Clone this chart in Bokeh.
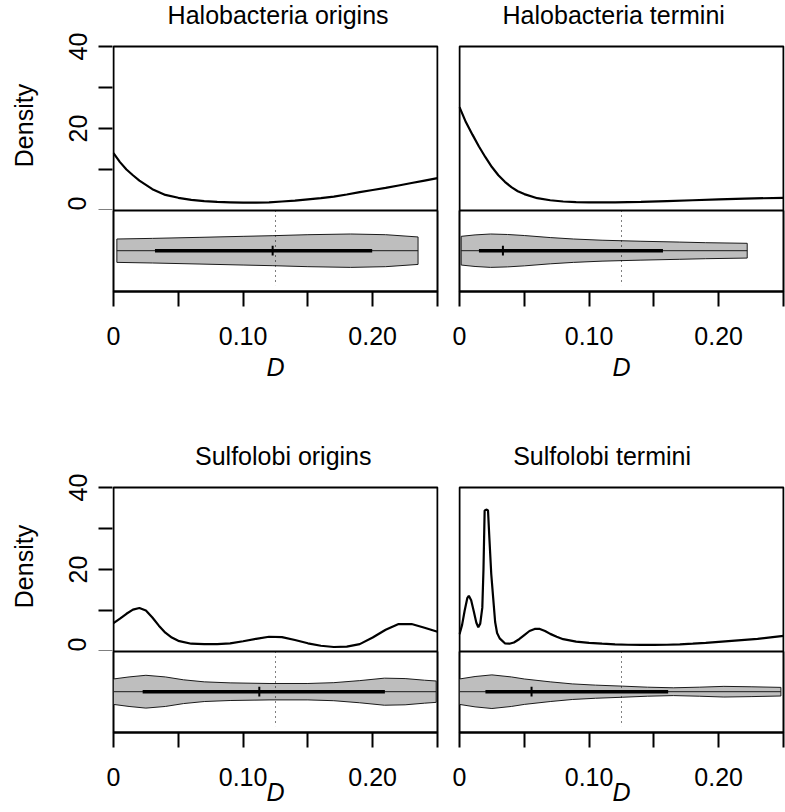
import math
from bokeh.plotting import figure
from bokeh.layouts import column, row
from bokeh.models import Range1d, FixedTicker
from bokeh.core.properties import value
from bokeh.embed import file_html
from bokeh.resources import INLINE

FONT = "Liberation Sans"

titles = ["Halobacteria origins", "Halobacteria termini",
          "Sulfolobi origins", "Sulfolobi termini"]
y_title = "Density"
x_title = "D"

# ---- density curves (D vs Density) ----
dens1_x = [0, 0.005, 0.01, 0.015, 0.02, 0.03, 0.04, 0.05, 0.06, 0.07, 0.08, 0.09, 0.10,
           0.11, 0.12, 0.13, 0.14, 0.15, 0.16, 0.17, 0.18, 0.19, 0.20, 0.21, 0.22, 0.23, 0.24, 0.25]
dens1_y = [14.0, 11.8, 10.0, 8.6, 7.3, 5.2, 3.8, 3.1, 2.6, 2.3, 2.1, 2.0, 1.9,
           1.9, 2.0, 2.2, 2.4, 2.7, 3.0, 3.4, 3.9, 4.5, 5.0, 5.5, 6.1, 6.7, 7.3, 7.9]

dens2_x = [0, 0.005, 0.01, 0.015, 0.02, 0.025, 0.03, 0.035, 0.04, 0.045, 0.05, 0.06, 0.07,
           0.08, 0.09, 0.10, 0.12, 0.14, 0.16, 0.18, 0.20, 0.22, 0.25]
dens2_y = [25.2, 21.5, 18.5, 15.6, 13.0, 10.6, 8.6, 7.0, 5.7, 4.7, 4.0, 3.0, 2.5,
           2.2, 2.05, 2.0, 2.0, 2.1, 2.3, 2.5, 2.7, 2.9, 3.1]

dens3_x = [0, 0.005, 0.01, 0.015, 0.02, 0.025, 0.03, 0.035, 0.04, 0.045, 0.05, 0.06, 0.07,
           0.08, 0.09, 0.10, 0.11, 0.12, 0.13, 0.14, 0.15, 0.16, 0.17, 0.18, 0.19, 0.20,
           0.21, 0.22, 0.23, 0.24, 0.25]
dens3_y = [6.9, 8.0, 9.2, 10.2, 10.6, 10.0, 8.3, 6.3, 4.6, 3.4, 2.6, 1.9, 1.8,
           1.8, 2.0, 2.5, 3.1, 3.6, 3.5, 2.8, 2.0, 1.4, 1.1, 1.2, 1.8, 3.4,
           5.3, 6.7, 6.7, 5.8, 4.8]

dens4_x = [0, 0.002, 0.004, 0.006, 0.0072, 0.009, 0.011, 0.013, 0.0145, 0.016, 0.0176,
           0.0185, 0.0194, 0.021, 0.022, 0.023, 0.0245, 0.026, 0.0275, 0.029, 0.031,
           0.035, 0.0385, 0.042, 0.046, 0.05, 0.054, 0.058, 0.062, 0.066, 0.07, 0.075,
           0.08, 0.09, 0.10, 0.11, 0.12, 0.13, 0.14, 0.15, 0.16, 0.17, 0.18, 0.19, 0.20,
           0.21, 0.22, 0.23, 0.24, 0.25]
dens4_y = [4.2, 6.5, 10.0, 13.0, 13.6, 12.5, 9.8, 7.0, 5.9, 6.8, 10.7,
           20.0, 34.4, 34.6, 34.4, 28.0, 18.9, 13.0, 7.2, 4.5, 3.2,
           2.0, 1.9, 2.2, 3.0, 4.0, 5.0, 5.5, 5.5, 5.0, 4.3, 3.6,
           3.0, 2.4, 2.1, 1.9, 1.75, 1.65, 1.6, 1.6, 1.65, 1.75, 1.9, 2.1, 2.35,
           2.6, 2.85, 3.1, 3.45, 3.8]

# ---- violin half-widths (same units as the violin strip) ----
vio1_x = [0.0026, 0.03, 0.066, 0.10, 0.123, 0.15, 0.183, 0.21, 0.235]
vio1_w = [2.85, 3.0, 3.25, 3.5, 3.66, 3.9, 4.07, 3.9, 3.35]

vio2_x = [0.0013, 0.012, 0.024, 0.037, 0.05, 0.07, 0.088, 0.11, 0.14, 0.17, 0.19, 0.222]
vio2_w = [3.5, 3.85, 4.07, 3.95, 3.7, 3.2, 2.85, 2.55, 2.3, 2.1, 1.95, 1.8]

vio3_x = [0.0, 0.012, 0.025, 0.04, 0.054, 0.07, 0.09, 0.12, 0.15, 0.17, 0.19, 0.209,
          0.225, 0.24, 0.249]
vio3_w = [3.1, 3.6, 4.0, 3.6, 2.9, 2.4, 2.15, 2.0, 2.0, 2.2, 2.7, 3.3, 3.2, 2.8, 2.6]

vio4_x = [0.0, 0.012, 0.025, 0.04, 0.05, 0.07, 0.087, 0.105, 0.126, 0.145, 0.165, 0.185,
          0.204, 0.225, 0.248]
vio4_w = [3.1, 3.7, 4.1, 3.6, 3.1, 2.4, 1.9, 1.6, 1.35, 1.1, 0.95, 1.1, 1.3, 1.2, 1.05]

box_q1 = [0.032, 0.015, 0.0225, 0.020]
box_q3 = [0.1996, 0.157, 0.2094, 0.161]
box_med = [0.1228, 0.0335, 0.1125, 0.0556]
ref_D = 0.125

dens_x = [dens1_x, dens2_x, dens3_x, dens4_x]
dens_y = [dens1_y, dens2_y, dens3_y, dens4_y]
vio_x = [vio1_x, vio2_x, vio3_x, vio4_x]
vio_w = [vio1_w, vio2_w, vio3_w, vio4_w]

# ---- layout / style constants ----
FRAME_W = 324
PX = 0.25 / FRAME_W          # one pixel in D units
L_BORDER = 113
LABEL_W = 45                 # strip holding the rotated "Density" label
R_LEFT_BORDER = 20
RB = 2
DENS_FIG_H = 210             # density strip incl. title space
PX_PER_UNIT = 4.1            # density pixels per unit
VIO_FRAME_H = 81
VIO_CENTER = -9.8
TITLE_X = [0.127, 0.119, 0.131, 0.110]
TITLE_Y = 47.6
YLAB_X = 23
YLAB_Y = 85
TXT = "25px"


def style_common(p):
    p.xgrid.visible = False
    p.ygrid.visible = False
    p.background_fill_color = "white"
    p.border_fill_color = "white"


def make_ylabel():
    p = figure(width=LABEL_W, height=DENS_FIG_H,
               x_range=Range1d(0, LABEL_W), y_range=Range1d(0, DENS_FIG_H),
               output_backend="svg", toolbar_location=None,
               x_axis_location=None, y_axis_location=None,
               min_border_left=0, min_border_right=0, min_border_top=0, min_border_bottom=0)
    style_common(p)
    p.outline_line_color = None
    p.text(x=[YLAB_X], y=[YLAB_Y], text=[y_title], angle=math.pi / 2,
           text_align="center", text_baseline="alphabetic",
           text_font=value(FONT), text_font_size=value(TXT), text_color="black")
    return p


def make_density(i, left):
    lb = (L_BORDER - LABEL_W if left else R_LEFT_BORDER) - 1
    p = figure(width=lb + FRAME_W + 2 + (RB - 1),
               height=DENS_FIG_H,
               x_range=Range1d(-PX, 0.25 + PX),
               y_range=Range1d(0, DENS_FIG_H / PX_PER_UNIT),
               output_backend="svg", toolbar_location=None,
               x_axis_location=None,
               y_axis_location="left" if left else None,
               min_border_left=lb, min_border_right=RB - 1,
               min_border_top=0, min_border_bottom=0)
    style_common(p)
    p.outline_line_color = None
    if left:
        ax = p.yaxis[0]
        ax.ticker = FixedTicker(ticks=[0, 20, 40], minor_ticks=[10, 30])
        ax.major_tick_out = 14
        ax.major_tick_in = 0
        ax.minor_tick_out = 14
        ax.minor_tick_in = 0
        ax.major_tick_line_width = 2
        ax.minor_tick_line_width = 2
        ax.major_tick_line_color = "black"
        ax.minor_tick_line_color = "black"
        ax.axis_line_color = None
        ax.major_label_orientation = "vertical"
        ax.major_label_text_font = FONT
        ax.major_label_text_font_size = TXT
        ax.major_label_text_color = "black"
        ax.major_label_standoff = 12
    # plot box of the density panel
    p.quad(left=[0], right=[0.25], bottom=[0], top=[40],
           fill_color=None, line_color="black", line_width=2)
    p.line(dens_x[i], dens_y[i], line_color="black", line_width=2.2)
    p.text(x=[TITLE_X[i]], y=[TITLE_Y], text=[titles[i]],
           text_align="center", text_baseline="alphabetic",
           text_font=value(FONT), text_font_size=value(TXT), text_color="black")
    return p


def make_violin(i, left, bottom_border, label_standoff, axis_label_standoff):
    p = figure(width=(L_BORDER if left else R_LEFT_BORDER) + FRAME_W + RB,
               height=VIO_FRAME_H + bottom_border,
               x_range=Range1d(0, 0.25), y_range=Range1d(-19.75, 0),
               output_backend="svg", toolbar_location=None,
               y_axis_location=None, x_axis_location="below",
               min_border_left=L_BORDER if left else R_LEFT_BORDER,
               min_border_right=RB, min_border_top=0, min_border_bottom=bottom_border)
    style_common(p)
    p.outline_line_color = "black"
    p.outline_line_width = 2
    ax = p.xaxis[0]
    ax.ticker = FixedTicker(ticks=[0, 0.1, 0.2], minor_ticks=[0.05, 0.15, 0.25])
    ax.major_label_overrides = {0: "0", 0.1: "0.10", 0.2: "0.20"}
    ax.major_tick_out = 15
    ax.major_tick_in = 0
    ax.minor_tick_out = 15
    ax.minor_tick_in = 0
    ax.major_tick_line_width = 2
    ax.minor_tick_line_width = 2
    ax.major_tick_line_color = "black"
    ax.minor_tick_line_color = "black"
    ax.axis_line_width = 2
    ax.axis_line_color = "black"
    ax.major_label_text_font = FONT
    ax.major_label_text_font_size = TXT
    ax.major_label_text_color = "black"
    ax.major_label_standoff = label_standoff
    ax.axis_label = x_title
    ax.axis_label_text_font = FONT
    ax.axis_label_text_font_size = TXT
    ax.axis_label_text_font_style = "italic"
    ax.axis_label_text_color = "black"
    ax.axis_label_standoff = axis_label_standoff

    vx = vio_x[i]
    vw = vio_w[i]
    xs = list(vx) + list(vx[::-1])
    ys = [VIO_CENTER + w for w in vw] + [VIO_CENTER - w for w in vw[::-1]]
    p.patch(xs, ys, fill_color="#bebebe", line_color="#1a1a1a", line_width=1)
    p.segment(x0=[vx[0]], y0=[VIO_CENTER], x1=[vx[-1]], y1=[VIO_CENTER],
              line_color="#1a1a1a", line_width=1)
    p.segment(x0=[box_q1[i]], y0=[VIO_CENTER], x1=[box_q3[i]], y1=[VIO_CENTER],
              line_color="black", line_width=3.5, line_cap="butt")
    p.segment(x0=[box_med[i]], y0=[VIO_CENTER - 1.2], x1=[box_med[i]], y1=[VIO_CENTER + 1.2],
              line_color="black", line_width=2)
    p.segment(x0=[ref_D], y0=[0], x1=[ref_D], y1=[-18.3],
              line_color="black", line_width=1, line_dash="1 4")
    return p


BOTTOM1 = 150
BOTTOM2 = 812 - (2 * DENS_FIG_H + (VIO_FRAME_H + BOTTOM1) + VIO_FRAME_H)

r1 = row(make_ylabel(), make_density(0, True), make_density(1, False))
r2 = row(make_violin(0, True, BOTTOM1, 20, 5), make_violin(1, False, BOTTOM1, 20, 5))
r3 = row(make_ylabel(), make_density(2, True), make_density(3, False))
r4 = row(make_violin(2, True, BOTTOM2, 20, -11), make_violin(3, False, BOTTOM2, 20, -11))

layout = column(r1, r2, r3, r4)

open("out.html", "w").write(file_html(layout, INLINE))
